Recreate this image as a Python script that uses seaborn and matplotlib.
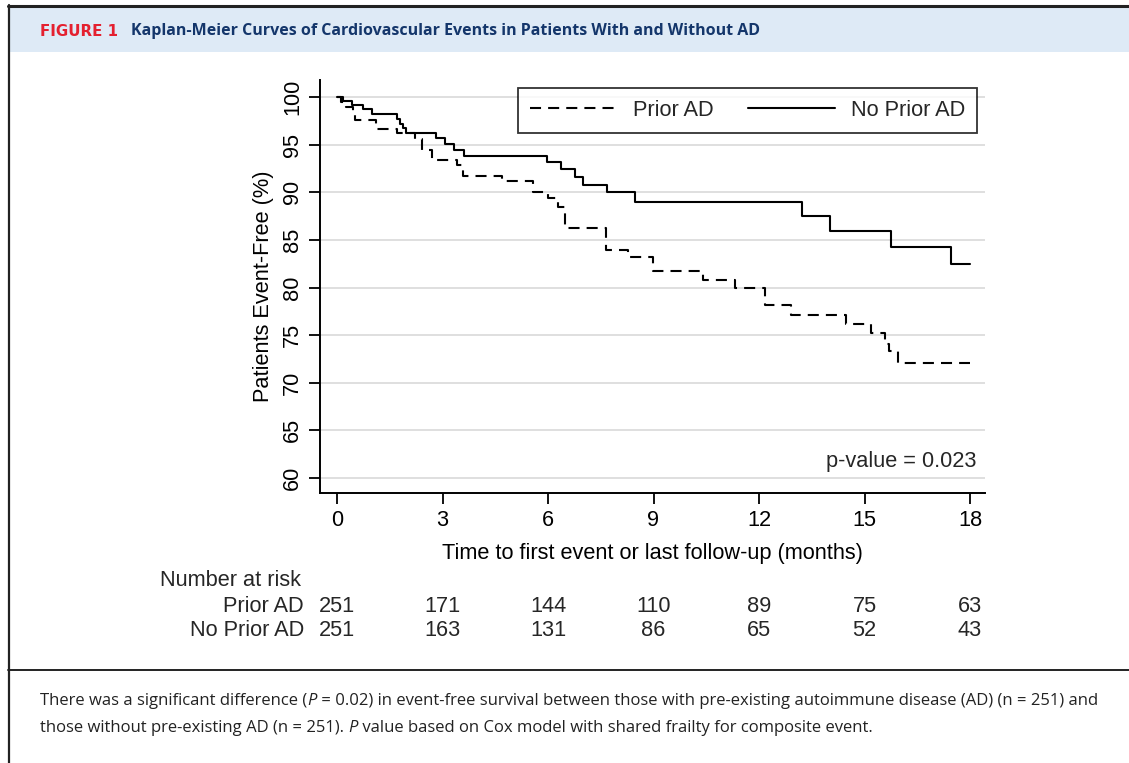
import numpy as np
import pandas as pd
import matplotlib
matplotlib.use("Agg")
import matplotlib.pyplot as plt
import matplotlib.transforms as mtransforms
from matplotlib.lines import Line2D
from matplotlib.patches import Rectangle
import seaborn as sns
from matplotlib import font_manager

# ---------------- data ----------------
groups = ["Prior AD", "No Prior AD"]
prior_time = [0, 0.10, 0.25, 0.45, 0.50, 1.11, 1.70, 2.22, 2.41, 2.69, 3.40, 3.59, 4.68,
              5.58, 6.00, 6.29, 6.48, 7.66, 8.28, 8.99, 10.41, 11.31, 12.16, 12.92,
              14.48, 15.19, 15.57, 15.71, 15.95, 18.0]
prior_surv = [100, 99.5, 99.0, 98.5, 97.6, 96.6, 96.2, 95.6, 94.4, 93.4, 92.9, 91.7, 91.2,
              90.0, 89.4, 88.4, 86.2, 83.9, 83.2, 81.7, 80.8, 79.9, 78.2, 77.1,
              76.2, 75.2, 74.1, 73.3, 72.1, 72.1]
noprior_time = [0, 0.16, 0.42, 0.75, 0.99, 1.70, 1.79, 1.88, 1.96, 2.81, 3.07, 3.32, 3.61,
                5.96, 6.38, 6.76, 7.00, 7.68, 8.47, 13.23, 14.03, 15.76, 17.46, 18.0]
noprior_surv = [100, 99.6, 99.2, 98.7, 98.2, 97.7, 97.2, 96.7, 96.2, 95.7, 95.1, 94.4, 93.8,
                93.2, 92.4, 91.6, 90.8, 90.0, 89.0, 87.5, 85.9, 84.3, 82.5, 82.5]
risk_times = [0, 3, 6, 9, 12, 15, 18]
risk_prior = [251, 171, 144, 110, 89, 75, 63]
risk_noprior = [251, 163, 131, 86, 65, 52, 43]
yticks = [60, 65, 70, 75, 80, 85, 90, 95, 100]

df = pd.concat([
    pd.DataFrame({"time": prior_time, "surv": prior_surv, "group": groups[0]}),
    pd.DataFrame({"time": noprior_time, "surv": noprior_surv, "group": groups[1]}),
], ignore_index=True)

# ---------------- style ----------------
sns.set_theme(style="white")
avail = {f.name for f in font_manager.fontManager.ttflist}
narrow = "Liberation Sans Narrow" if "Liberation Sans Narrow" in avail else "Open Sans"
plt.rcParams["font.family"] = ["Liberation Sans", "DejaVu Sans"]

FS = 15.7
DASH = (5.3, 3.4)

W, H = 1129, 763
fig = plt.figure(figsize=(W / 100, H / 100), dpi=100)
fig.patch.set_facecolor("white")

def fx(px):
    return px / W

def fy(py):
    return 1 - py / H

# frame / banner
fig.add_artist(Rectangle((fx(8), fy(52)), fx(W) - fx(8), fy(7) - fy(52),
                         transform=fig.transFigure, facecolor="#deeaf6", edgecolor="none"))
fig.add_artist(Line2D([fx(8), 1], [fy(6), fy(6)], transform=fig.transFigure, color="#222222", lw=2.2))
fig.add_artist(Line2D([fx(9), fx(9)], [fy(5), 0], transform=fig.transFigure, color="#222222", lw=1.6))
fig.add_artist(Line2D([fx(8), 1], [fy(670), fy(670)], transform=fig.transFigure, color="#222222", lw=1.4))

fig.text(fx(40), fy(31), "FIGURE 1", color="#e4202f", fontsize=10.8, fontweight="bold",
         family=["DejaVu Sans"], va="center", ha="left")
fig.text(fx(131), fy(31), "Kaplan-Meier Curves of Cardiovascular Events in Patients With and Without AD",
         color="#14366b", fontsize=11.5, fontweight="bold", family=[narrow, "DejaVu Sans"],
         va="center", ha="left")

# axes
ax = fig.add_axes([fx(320), fy(493), fx(985) - fx(320), fy(80) - fy(493)])
ax.set_facecolor("white")
sns.lineplot(data=df, x="time", y="surv", style="group", style_order=groups,
             dashes={groups[0]: DASH, groups[1]: ""}, color="black",
             drawstyle="steps-post", estimator=None, sort=False, lw=1.5,
             legend=False, ax=ax)

x0 = 337
pxm = (970 - 337) / 18.0
ax.set_xlim((320 - x0) / pxm, (985 - x0) / pxm)
y_per = (478 - 97) / 40.0
ax.set_ylim(100 - (493 - 97) / y_per, 100 + (97 - 80) / y_per)
ax.set_xticks(risk_times)
ax.set_yticks(yticks)
ax.set_yticklabels([str(v) for v in yticks], rotation=90, va="center")
ax.tick_params(axis="both", direction="out", length=8, width=1.3, color="black",
               labelsize=FS, labelcolor="black", bottom=True, left=True, pad=4)
for v in yticks:
    ax.axhline(v, color="#dcdcdc", lw=1.3, zorder=0)
for s in ["top", "right"]:
    ax.spines[s].set_visible(False)
for s in ["left", "bottom"]:
    ax.spines[s].set_color("black")
    ax.spines[s].set_linewidth(1.4)
ax.set_xlabel("Time to first event or last follow-up (months)", fontsize=FS, labelpad=9, color="black")
ax.set_ylabel("Patients Event-Free (%)", fontsize=FS, labelpad=6, color="black")

handles = [Line2D([], [], color="black", lw=1.5, dashes=DASH),
           Line2D([], [], color="black", lw=1.5)]
leg = ax.legend(handles, groups, ncol=2, loc="upper right",
                bbox_to_anchor=(fx(977), fy(88)), bbox_transform=fig.transFigure,
                borderaxespad=0, frameon=True, fancybox=False, fontsize=FS,
                handlelength=4.0, handletextpad=0.7, columnspacing=1.6, borderpad=0.55)
leg.get_frame().set_edgecolor("black")
leg.get_frame().set_linewidth(1.3)

fig.text(fx(977), fy(461), "p-value = 0.023", fontsize=FS, ha="right", va="center")

# number at risk
bt = mtransforms.blended_transform_factory(ax.transData, fig.transFigure)
fig.text(fx(160), fy(580), "Number at risk", fontsize=FS, ha="left", va="center")
fig.text(fx(304), fy(606), groups[0], fontsize=FS, ha="right", va="center")
fig.text(fx(304), fy(631), groups[1], fontsize=FS, ha="right", va="center")
for t, a, b in zip(risk_times, risk_prior, risk_noprior):
    ax.text(t, fy(606), str(a), transform=bt, fontsize=FS, ha="center", va="center")
    ax.text(t, fy(631), str(b), transform=bt, fontsize=FS, ha="center", va="center")

def line(parts, y):
    xpos = fx(40)
    r = fig.canvas.get_renderer()
    for txt, st in parts:
        t = fig.text(xpos, fy(y), txt, fontsize=12.0, family=[narrow, "DejaVu Sans"],
                     style=st, ha="left", va="center", color="#222222")
        bb = t.get_window_extent(renderer=r)
        xpos += bb.width / W

line([("There was a significant difference (", "normal"), ("P", "italic"),
      (" = 0.02) in event-free survival between those with pre-existing autoimmune disease (AD) (n = 251) and", "normal")], 701)
line([("those without pre-existing AD (n = 251). ", "normal"), ("P", "italic"),
      (" value based on Cox model with shared frailty for composite event.", "normal")], 728)

fig.savefig("out.png", dpi=100)
